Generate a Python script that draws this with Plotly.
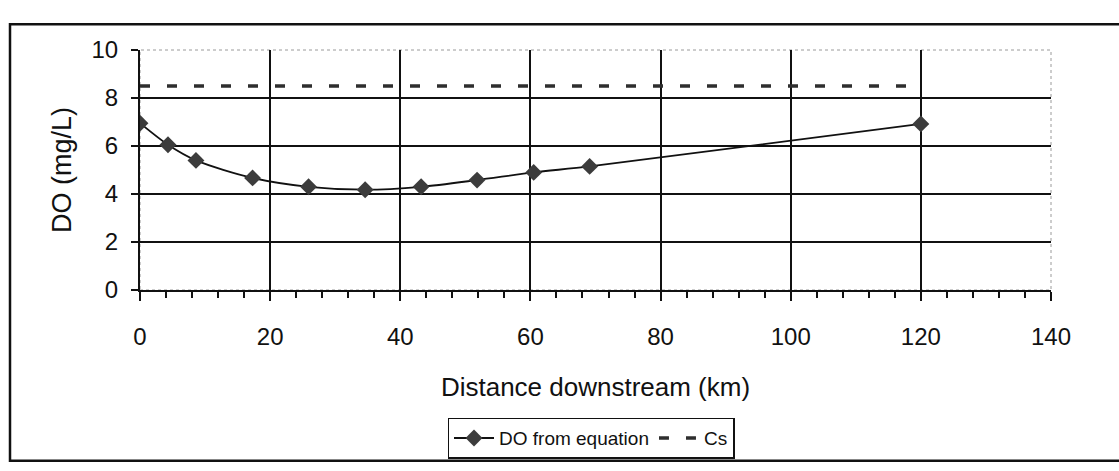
import plotly.graph_objects as go

distance_km = [0, 4.3, 8.6, 17.3, 25.9, 34.6, 43.2, 51.8, 60.5, 69.1, 120]
do_eq = [6.95, 6.05, 5.4, 4.67, 4.3, 4.18, 4.3, 4.58, 4.9, 5.15, 6.92]
cs_x = [0, 120]
cs_vals = [8.5, 8.5]

FONT = "Liberation Sans, Arial, sans-serif"

fig = go.Figure()
fig.add_trace(go.Scatter(
    x=distance_km, y=do_eq, mode="lines+markers", name="DO from equation",
    line=dict(color="#111111", width=1.8, shape="spline", smoothing=0.8),
    marker=dict(symbol="diamond", size=13, color="#3c3c3c", line=dict(width=0)),
))
fig.add_trace(go.Scatter(
    x=cs_x, y=cs_vals, mode="lines", name="Cs",
    line=dict(color="#2e2e2e", width=3.5, dash="10px,17px"),
))

fig.update_layout(
    width=1119, height=471,
    margin=dict(l=140, r=68, t=50, b=178),
    paper_bgcolor="white", plot_bgcolor="white",
    font=dict(family=FONT, color="#111111", size=24),
    showlegend=True,
    legend=dict(
        orientation="h", x=(591 - 140) / 911, xanchor="center", y=(293 - 443) / 243, yanchor="middle",
        bordercolor="#111111", borderwidth=1.5, bgcolor="white",
        font=dict(size=19, family=FONT), itemwidth=40,
    ),
    shapes=[
        dict(type="rect", xref="paper", yref="paper", x0=0, x1=1, y0=0, y1=1,
             line=dict(color="#9a9a9a", width=1, dash="dot"), layer="below"),
        dict(type="rect", xref="paper", yref="paper",
             x0=(10 - 140) / 911, x1=(1135 - 140) / 911,
             y0=(293 - 466) / 243, y1=(293 - 24) / 243,
             line=dict(color="#111111", width=2.5)),
    ],
)
fig.update_xaxes(
    range=[0, 140], dtick=20, tick0=0, showgrid=True, gridcolor="#111111", gridwidth=1.6,
    showline=True, linecolor="#111111", linewidth=2, zeroline=False,
    ticks="outside", ticklen=9, tickwidth=2, tickcolor="#111111",
    minor=dict(dtick=4, tick0=0, ticks="outside", ticklen=6, tickwidth=2, tickcolor="#111111", showgrid=False),
    ticklabelstandoff=15,
    title=dict(text="Distance downstream (km)", standoff=29, font=dict(size=26)),
    tickfont=dict(size=24),
)
fig.update_yaxes(
    range=[0, 10], dtick=2, tick0=0, showgrid=True, gridcolor="#111111", gridwidth=1.6,
    showline=True, linecolor="#111111", linewidth=2, zeroline=False,
    ticks="outside", ticklen=7, tickwidth=2, tickcolor="#111111",
    ticklabelstandoff=8,
    title=dict(text="DO (mg/L)", standoff=12, font=dict(size=27)),
    tickfont=dict(size=24),
)

fig.write_html("out.html", config={"displayModeBar": False},
               post_script="document.body.style.margin='0';")
